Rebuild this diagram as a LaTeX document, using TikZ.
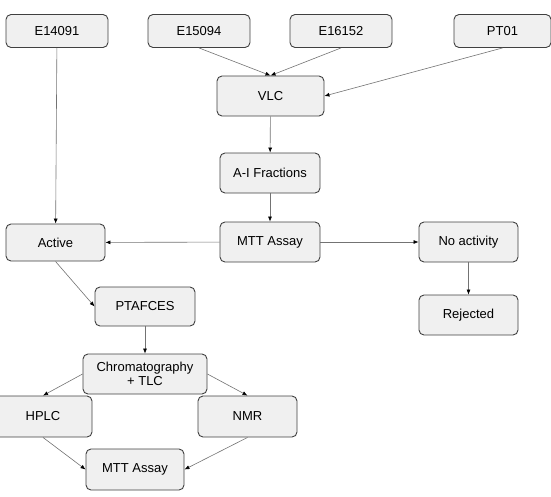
\documentclass[tikz,border=0pt]{standalone}
\usepackage{fontspec}
\setmainfont{Liberation Sans}
\usepackage{tikz}
\usetikzlibrary{arrows.meta, positioning}

\begin{document}
\begin{tikzpicture}[
        x=1pt, y=-1pt,
        font=\fontsize{13}{14.5}\selectfont,
        box/.style={draw=black!75, fill=black!6, rounded corners=5pt, line width=0.9pt,
            align=center, minimum width=100pt, minimum height=40pt, inner sep=2pt},
        topbox/.style={box, minimum width=102pt, minimum height=33pt},
        arrow/.style={-{Latex[length=5pt, width=4pt, color=black]}, draw=black!55, line width=0.6pt}
    ]
        \useasboundingbox (0,0) rectangle (551,496);

        % Nodes
        \node[topbox] (e14091) at (57,31) {E14091};
        \node[topbox] (e15094) at (199,31) {E15094};
        \node[topbox] (e16152) at (341,31) {E16152};
        \node[topbox, minimum width=97pt] (pt01) at (502.5,31) {PT01};
        \node[box, minimum width=107pt] (vlc) at (270.5,96) {VLC};
        \node[box] (fractions) at (270,173) {A-I Fractions};
        \node[box] (mtt) at (270,242) {MTT Assay};
        \node[box, minimum width=99pt, minimum height=37pt] (active) at (55.5,242.5) {Active};
        \node[box, minimum width=99pt] (noact) at (468.5,242) {No activity};
        \node[box, minimum width=99pt] (rejected) at (468.5,315) {Rejected};
        \node[box, minimum height=39pt] (ptafces) at (145,306.5) {PTAFCES};
        \node[box, minimum width=124pt, inner sep=1pt] (chromato) at (145,374) {Chromatography\\+ TLC};
        \node[box, minimum width=98pt, minimum height=41pt] (hplc) at (43,416.5) {HPLC};
        \node[box, minimum width=99pt, minimum height=41pt] (nmr) at (247.5,416.5) {NMR};
        \node[box, minimum width=98pt, minimum height=41pt] (mtt2) at (135,469.5) {MTT Assay};

        % Arrows
        \draw[arrow] (e14091) -- (active);
        \draw[arrow] (e15094.south) -- (vlc.north);
        \draw[arrow] (e16152.south) -- (vlc.north);
        \draw[arrow] (pt01.south) -- (vlc.east);
        \draw[arrow] (vlc) -- (fractions);
        \draw[arrow] (fractions) -- (mtt);
        \draw[arrow] (mtt) -- (active);
        \draw[arrow] (mtt) -- (noact);
        \draw[arrow] (noact) -- (rejected);
        \draw[arrow] (active.south) -- (ptafces.west);
        \draw[arrow] (ptafces) -- (chromato);
        \draw[arrow] (chromato.west) -- (hplc.north);
        \draw[arrow] (chromato.east) -- (nmr.north);
        \draw[arrow] (hplc.south) -- (mtt2.west);
        \draw[arrow] (nmr.south) -- (mtt2.east);
    \end{tikzpicture}
\end{document}
